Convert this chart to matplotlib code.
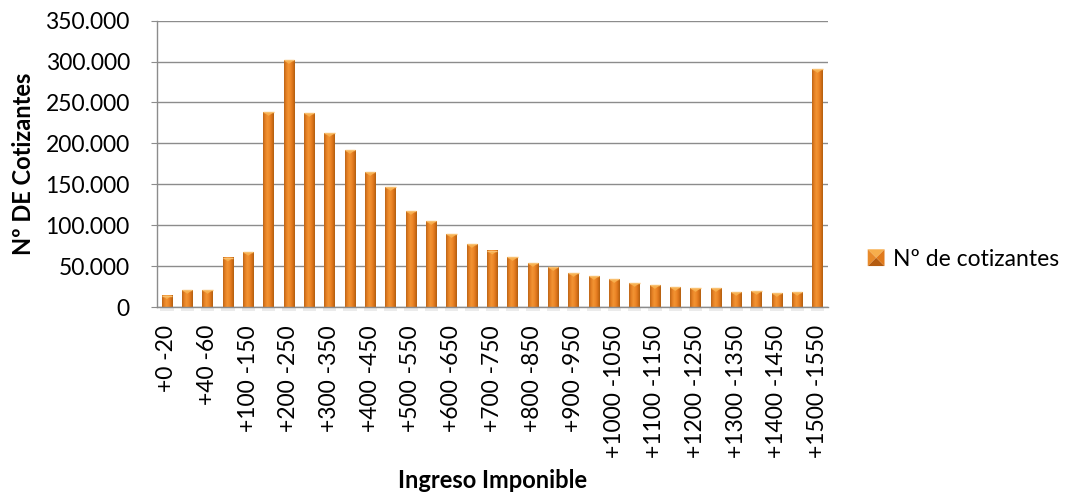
import matplotlib
matplotlib.use("Agg")
import matplotlib.pyplot as plt
import numpy as np
from matplotlib.patches import Polygon
from matplotlib.legend_handler import HandlerBase
from matplotlib.ticker import FuncFormatter

plt.rcParams['font.family'] = ['Lato', 'DejaVu Sans']

# Income brackets and number of contributors in each
tramos = ["+0 -20", "+20 -40", "+40 -60", "+60 -100"] + \
    [f"+{a} -{a + 50}" for a in range(100, 1550, 50)]
cotizantes = [14000, 20500, 20500, 60000, 67000, 238000, 301500, 236800,
              212300, 191500, 164600, 146300, 117000, 104700, 88800, 76600,
              68500, 60700, 53400, 48500, 41200, 37500, 33800, 29000, 26500,
              24000, 22800, 22800, 18000, 19200, 16700, 18000, 290500]

serie = "Nº de cotizantes"
titulo_x = "Ingreso Imponible"
titulo_y = "Nº DE Cotizantes"

GRIS = "#8c8c8c"
FS = 16.5

# left-to-right shading of each bar
grad = np.array([
    [0.74, 0.40, 0.09],
    [0.90, 0.50, 0.14],
    [0.95, 0.58, 0.20],
    [0.93, 0.53, 0.16],
    [0.85, 0.45, 0.10],
    [0.70, 0.37, 0.06],
])
pos = np.linspace(0, 1, len(grad))
xs = np.linspace(0, 1, 40)
tira = np.stack([np.interp(xs, pos, grad[:, k]) for k in range(3)], axis=-1)[None, :, :]

fig = plt.figure(figsize=(10.75, 4.98), dpi=100)
ax = fig.add_axes([0.1458, 0.3835, 0.6242, 0.575])

x = np.arange(len(tramos))
ancho = 0.5
barras = ax.bar(x, cotizantes, width=ancho, color="#e07a1c", zorder=3)

# soft shadow under each bar foot
ax.bar(x, [-4500] * len(x), width=ancho * 1.3, color="#b0b0b0", alpha=0.25,
       zorder=1, clip_on=False, linewidth=0)

cap = 4300  # height of the bevel tip, in data units
for b in barras:
    x0, x1 = b.get_x(), b.get_x() + b.get_width()
    h = b.get_height()
    ax.imshow(tira, extent=(x0, x1, 0, h), aspect="auto", zorder=4,
              interpolation="bilinear")
    ax.add_patch(Polygon([(x0, h), (x1, h), ((x0 + x1) / 2, h - cap)],
                         closed=True, facecolor="#f7ae4c", edgecolor="none",
                         zorder=5))
    ax.plot([x0, x1], [h, h], color="#f9c070", lw=1.0, zorder=6,
            solid_capstyle="butt")

ax.set_xlim(-0.5, len(x) - 0.5)
ax.set_ylim(0, 350000)
ax.set_yticks(np.arange(0, 350001, 50000))
ax.yaxis.set_major_formatter(FuncFormatter(lambda v, p: f"{int(v):,}".replace(",", ".")))
ax.set_xticks(x[::2], tramos[::2], rotation=90)

ax.grid(axis="y", color=GRIS, lw=1.0, zorder=0)
ax.set_axisbelow(True)
for s in ["top", "right"]:
    ax.spines[s].set_visible(False)
for s in ["left", "bottom"]:
    ax.spines[s].set_color(GRIS)
    ax.spines[s].set_linewidth(1.0)
    ax.spines[s].set_zorder(7)

ax.tick_params(axis="y", length=4, color=GRIS, pad=15.4, labelsize=FS)
ax.tick_params(axis="x", length=0, pad=13, labelsize=FS)

ax.set_xlabel(titulo_x, fontsize=17, fontweight="bold")
ax.xaxis.set_label_coords(0.5, -0.565)
ax.xaxis.label.set_verticalalignment("top")
ax.set_ylabel(titulo_y, fontsize=17, fontweight="bold")
ax.yaxis.set_label_coords(-0.181, 0.5)


class Bisel(HandlerBase):
    # square legend key shaded like a bevelled pyramid
    def create_artists(self, legend, orig, xd, yd, w, h, fontsize, trans):
        s = min(w, h)
        x0, y0 = xd + (w - s) / 2, yd + (h - s) / 2
        c = (x0 + s / 2, y0 + s / 2)
        esq = [(x0, y0), (x0 + s, y0), (x0 + s, y0 + s), (x0, y0 + s)]
        tonos = ["#b45c10", "#e07a1c", "#f7ae4c", "#e88a2a"]
        out = []
        for i, col in enumerate(tonos):
            p = Polygon([esq[i], esq[(i + 1) % 4], c], closed=True,
                        facecolor=col, edgecolor="none", transform=trans)
            out.append(p)
        return out


fig.legend([barras], [serie], handler_map={type(barras): Bisel()},
           loc="center left", bbox_to_anchor=(0.807, 0.478), frameon=False,
           fontsize=FS, borderpad=0, borderaxespad=0, handlelength=0.75,
           handleheight=0.75, handletextpad=0.35)

fig.savefig("out.png", dpi=100, facecolor="white")
